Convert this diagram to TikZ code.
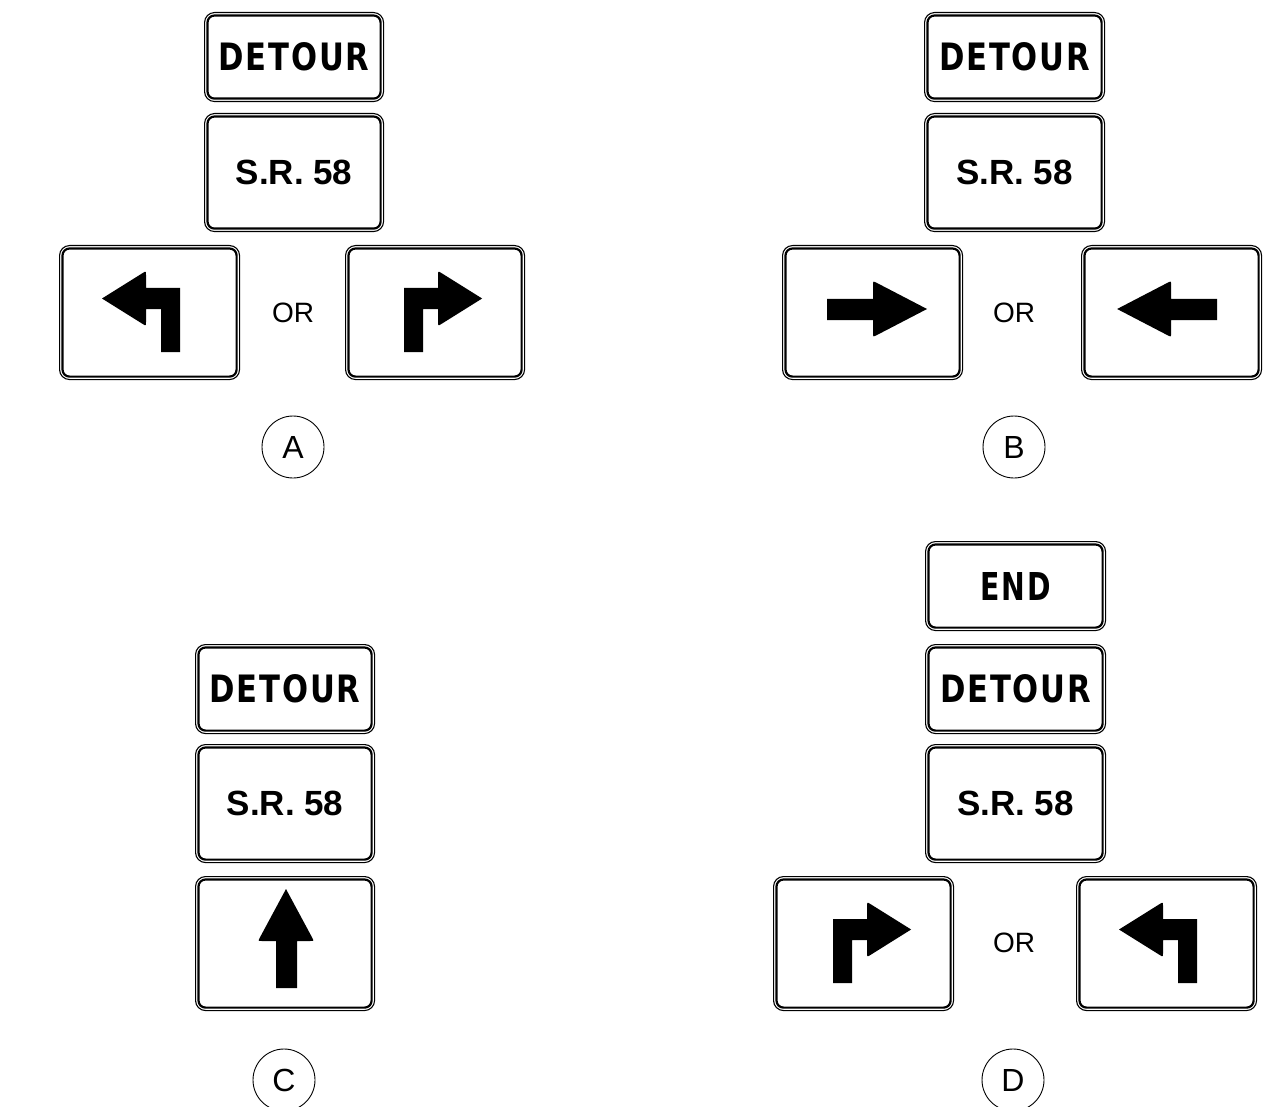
\documentclass[tikz,border=0pt]{standalone}
\usepackage{fontspec}
\setmainfont{Liberation Sans}
\newfontfamily\hwyfont[LetterSpace=6]{DejaVu Sans}
\tikzset{
 signbox/.style={draw, line width=1.1pt, rounded corners=10pt, inner sep=0pt, fill=white},
 signinner/.style={line width=2.2pt, rounded corners=7pt},
 orlabel/.style={font=\fontsize{28}{28}\selectfont},
 circlabel/.style={draw, circle, minimum size=62pt, line width=0.9pt, inner sep=0pt, font=\fontsize{32}{32}\selectfont},
 hwy/.style={font=\hwyfont\bfseries\fontsize{38}{38}\selectfont},
 srtext/.style={font=\bfseries\fontsize{35}{35}\selectfont},
}
\newcommand{\roadsign}[7]{%
  \node[signbox, #6, anchor=north west, minimum width=#4pt, minimum height=#5pt] (#1) at (#2,#3) {#7};
  \draw[signinner] ([shift={(3.5pt,-3.5pt)}]#1.north west) rectangle ([shift={(-3.5pt,3.5pt)}]#1.south east);
}
\newcommand{\hwytext}[2]{\resizebox{#1pt}{28pt}{#2}}
\newcommand{\turnarrowpath}{%
  \fill (121,107) -- (102,107) -- (102,64) -- (87,64) -- (87,77) .. controls (87,81) .. (83.6,78.9)
    -- (43,53.5) -- (83.6,28.1) .. controls (87,26) .. (87,30) -- (87,43) -- (121,43) -- cycle;}
\newcommand{\straightarrowpath}{%
  \fill (45,54) -- (91,54) -- (91,40) .. controls (91,36) .. (94.6,37.8) -- (145,64)
    -- (94.6,90.2) .. controls (91,92) .. (91,88) -- (91,75) -- (45,75) -- cycle;}
\newcommand{\uparrowpath}{%
  \fill (81,112) -- (81,65) -- (67,65) .. controls (63,65) .. (64.9,61.5) -- (91,13)
    -- (117.1,61.5) .. controls (119,65) .. (115,65) -- (102,65) -- (102,112) -- cycle;}
\begin{document}
\begin{tikzpicture}[x=1pt, y=-1pt]
\useasboundingbox (0,0) rectangle (1274,1107);
\clip (0,0) rectangle (1274,1107);
\fill[white] (0,0) rectangle (1274,1107);

% ---------- A ----------
\roadsign{A1}{204}{12}{179}{89}{hwy}{\hwytext{151}{DETOUR}}
\roadsign{A2}{204}{113}{179}{118}{srtext}{S.R. 58}
\roadsign{A3}{59}{245}{180}{134}{}{}
\roadsign{A4}{345}{245}{179}{134}{}{}
\begin{scope}[shift={(A3.north west)}] \turnarrowpath \end{scope}
\begin{scope}[shift={(A4.north east)}, xscale=-1] \turnarrowpath \end{scope}
\node[orlabel] (orA) at (293,313) {OR};
\node[circlabel] (cA) at (293,447) {A};

% ---------- B ----------
\roadsign{B1}{924}{12}{180}{89}{hwy}{\hwytext{151}{DETOUR}}
\roadsign{B2}{924}{113}{180}{118}{srtext}{S.R. 58}
\roadsign{B3}{782}{245}{180}{134}{}{}
\roadsign{B4}{1081}{245}{180}{134}{}{}
\begin{scope}[shift={(B3.north west)}] \straightarrowpath \end{scope}
\begin{scope}[shift={(B4.north east)}, xscale=-1] \straightarrowpath \end{scope}
\node[orlabel] (orB) at (1014,313) {OR};
\node[circlabel] (cB) at (1014,447) {B};

% ---------- C ----------
\roadsign{C1}{195}{644}{179}{89}{hwy}{\hwytext{151}{DETOUR}}
\roadsign{C2}{195}{744}{179}{118}{srtext}{S.R. 58}
\roadsign{C3}{195}{876}{179}{134}{}{}
\begin{scope}[shift={(C3.north west)}] \uparrowpath \end{scope}
\node[circlabel] (cC) at (284,1080) {C};

% ---------- D ----------
\roadsign{D0}{925}{541}{180}{89}{hwy}{\hwytext{70}{END}}
\roadsign{D1}{925}{644}{180}{89}{hwy}{\hwytext{151}{DETOUR}}
\roadsign{D2}{925}{744}{180}{118}{srtext}{S.R. 58}
\roadsign{D3}{773}{876}{180}{134}{}{}
\roadsign{D4}{1076}{876}{180}{134}{}{}
\begin{scope}[shift={(D3.north east)}, xscale=-1] \turnarrowpath \end{scope}
\begin{scope}[shift={(D4.north west)}] \turnarrowpath \end{scope}
\node[orlabel] (orD) at (1014,943) {OR};
\node[circlabel] (cD) at (1013,1080) {D};
\end{tikzpicture}
\end{document}
